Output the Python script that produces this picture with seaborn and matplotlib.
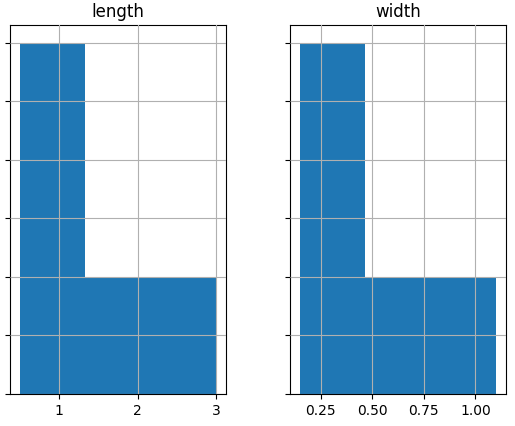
import pandas as pd
import matplotlib
matplotlib.use('Agg')
import matplotlib.pyplot as plt
import seaborn as sns

animals = ['pig', 'rabbit', 'duck', 'chicken', 'horse']
length = [1.5, 0.5, 1.2, 0.9, 3]
width = [0.7, 0.2, 0.15, 0.2, 1.1]

df = pd.DataFrame({'length': length, 'width': width}, index=animals)

fig, axes = plt.subplots(1, 2, figsize=(5.15, 4.26), dpi=100)
fig.subplots_adjust(left=0.02, right=0.982, top=0.941, bottom=0.075, wspace=0.3)

for ax, col in zip(axes, df.columns):
    sns.histplot(x=df[col], bins=3, ax=ax, color='#1f77b4', alpha=1,
                 edgecolor='none', linewidth=0)
    ax.set_title(col, fontsize=12)
    ax.set_xlabel('')
    ax.set_ylabel('')
    ax.set_ylim(0, 3.15)
    ax.set_yticks([0, 0.5, 1, 1.5, 2, 2.5, 3])
    ax.set_yticklabels([])
    ax.grid(True, color='#b0b0b0', linewidth=0.8)
    ax.set_axisbelow(False)
    for p in ax.patches:
        p.set_zorder(1)
    for gl in ax.get_xgridlines() + ax.get_ygridlines():
        gl.set_zorder(1.5)

axes[1].set_xticks([0.25, 0.5, 0.75, 1.0])
axes[1].set_xticklabels(['0.25', '0.50', '0.75', '1.00'])

plt.savefig('out.png')
